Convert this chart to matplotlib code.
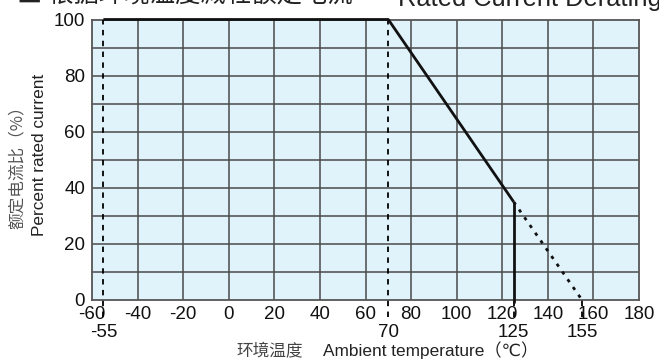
import matplotlib
matplotlib.use("Agg")
import matplotlib.pyplot as plt

# Data
temp_curve = [-55, 70, 125]
pct_curve = [100, 100, 35]
temp_extrap = [125, 155]
pct_extrap = [35, 0]
x_ticks = [-60, -40, -20, 0, 20, 40, 60, 80, 100, 120, 140, 160, 180]
x_marks = [-55, 70, 125, 155]
y_ticks = [0, 20, 40, 60, 80, 100]

LAT = ['Liberation Sans', 'DejaVu Sans']
CJK = ['Noto Sans CJK SC', 'DejaVu Sans']

W, H = 659, 363
fig = plt.figure(figsize=(W / 100, H / 100), dpi=100)
ax = fig.add_axes([92 / W, (H - 300) / H, (639 - 92) / W, (300 - 19.5) / H])
ax.set_facecolor('#e0f2fa')
ax.set_xlim(-60, 180)
ax.set_ylim(0, 100)

# grid
for gx in range(-40, 180, 20):
    ax.axvline(gx, color='#4a4a4a', lw=1.1, zorder=1)
for gy in range(10, 100, 10):
    ax.axhline(gy, color='#4a4a4a', lw=1.1, zorder=1)
for s in ax.spines.values():
    s.set_color('#555555')
    s.set_linewidth(1.3)

# dashed reference lines
ax.vlines([-55, 70], -6, 100, colors='black', linestyles=(0, (3, 3)), lw=1.3,
          clip_on=False, zorder=3)
ax.vlines([125, 155], -6, 0, colors='black', linestyles=(0, (3, 3)), lw=1.3,
          clip_on=False, zorder=3)

# curve
ax.plot(temp_curve, pct_curve, color='#111111', lw=2.0, zorder=4, clip_on=False,
        solid_capstyle='butt')
ax.vlines([125], -1, 35, colors='#111111', lw=2.0, zorder=4, clip_on=False)
ax.plot(temp_extrap, pct_extrap, color='#111111', lw=2.0, ls=(0, (1.2, 2.2)), zorder=4)

# ticks
ax.set_xticks(x_ticks)
ax.set_xticklabels([str(v) for v in x_ticks], family=LAT, fontsize=13.5)
ax.set_xticks(x_marks, minor=True)
ax.set_xticklabels([str(v) for v in x_marks], minor=True, family=LAT, fontsize=13.5)
ax.tick_params(axis='x', which='major', length=0, pad=4, colors='#111111')
ax.tick_params(axis='x', which='minor', length=0, pad=17.5, colors='#111111')
ax.set_yticks(y_ticks)
ax.set_yticklabels([str(v) for v in y_ticks], family=LAT, fontsize=13.5)
ax.tick_params(axis='y', length=0, pad=5, colors='#111111')

# axis labels
fig.text(17 / W, 1 - 163 / H, '额定电流比（%）', rotation=90, ha='center', va='center',
         family=CJK, fontsize=12, color='#555555')
fig.text(40 / W, 1 - 155 / H, 'Percent rated current', rotation=90, ha='center', va='center',
         family=LAT, fontsize=12.4, color='#222222')
fig.text(270 / W, 1 - 352 / H, '环境温度', ha='center', va='center',
         family=CJK, fontsize=12, color='#444444')
fig.text(431 / W, 1 - 350 / H, 'Ambient temperature（℃）', ha='center', va='center',
         family=LAT + ['Noto Sans CJK SC'], fontsize=12.4, color='#222222')

# title (clipped at top edge)
fig.text(17 / W, 1 - 3 / H, '■ 根据环境温度减轻额定电流', ha='left', va='baseline',
         family=CJK, fontsize=18.3, color='#222222')
fig.text(398 / W, 1 - 6 / H, 'Rated Current Derating', ha='left', va='baseline',
         family=LAT, fontsize=18.3, color='#222222')

fig.savefig('out.png', dpi=100)
